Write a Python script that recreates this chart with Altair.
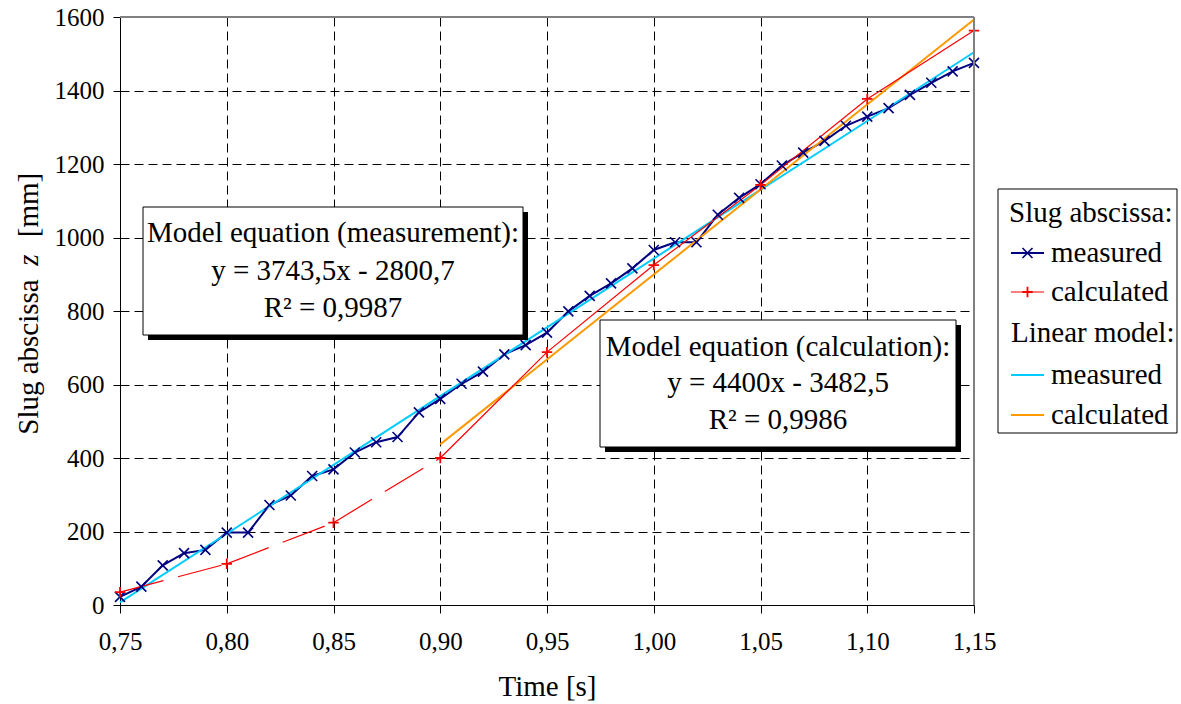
import altair as alt
import pandas as pd

# ---- data ----
time_meas = [0.75, 0.76, 0.77, 0.78, 0.79, 0.80, 0.81, 0.82, 0.83, 0.84, 0.85,
             0.86, 0.87, 0.88, 0.89, 0.90, 0.91, 0.92, 0.93, 0.94, 0.95,
             0.96, 0.97, 0.98, 0.99, 1.00, 1.01, 1.02, 1.03, 1.04, 1.05,
             1.06, 1.07, 1.08, 1.09, 1.10, 1.11, 1.12, 1.13, 1.14, 1.15]
z_meas = [22, 50, 108, 141, 150, 197, 197, 272, 298, 351, 369,
          415, 443, 457, 524, 561, 602, 635, 682, 707, 741,
          799, 841, 875, 916, 966, 987, 987, 1062, 1108, 1145,
          1196, 1231, 1263, 1304, 1329, 1352, 1388, 1421, 1452, 1475]
time_calc = [0.75, 0.80, 0.85, 0.90, 0.95, 1.00, 1.05, 1.10, 1.15]
z_calc = [35, 112, 224, 400, 688, 925, 1143, 1377, 1563]
trend_meas_t = [0.75, 1.15]
trend_meas_z = [7, 1504]
trend_calc_t = [0.90, 1.15]
trend_calc_z = [437, 1593]
x_ticks = [0.75, 0.80, 0.85, 0.90, 0.95, 1.00, 1.05, 1.10, 1.15]
y_ticks = [0, 200, 400, 600, 800, 1000, 1200, 1400, 1600]
dash_until = 0.90  # calculated curve is dashed before this time

NAVY = "#000080"
RED = "#FF0000"
CYAN = "#00CCFF"
ORANGE = "#FF9900"
FONT = "Liberation Serif"
TS = 29  # text size

W, H = 854, 588

df_meas = pd.DataFrame({"t": time_meas, "z": z_meas})
df_calc = pd.DataFrame({"t": time_calc, "z": z_calc})
df_calc_solid = df_calc[df_calc["t"] >= dash_until - 1e-9]
seg = pd.DataFrame({"t": time_calc[:-1], "z": z_calc[:-1],
                    "t1": time_calc[1:], "z1": z_calc[1:]})
seg_dashed = seg[seg["t1"] <= dash_until + 1e-9]
df_tm = pd.DataFrame({"t": trend_meas_t, "z": trend_meas_z})
df_tc = pd.DataFrame({"t": trend_calc_t, "z": trend_calc_z})
one = pd.DataFrame({"k": [0]})

xs = alt.Scale(domain=[0.75, 1.15], nice=False, zero=False)
ys = alt.Scale(domain=[0, 1600], nice=False, zero=True)

X_PATH = "M-1,-1L1,1M-1,1L1,-1"
P_PATH = "M-1,0L1,0M0,-1L0,1"

x_axis = alt.Axis(values=x_ticks,
                  labelExpr="replace(format(datum.value, '.2f'), '.', ',')",
                  labelFlush=False, labelOverlap=False,
                  grid=True, gridDash=[9, 5], gridColor="#000000", gridWidth=1,
                  gridOpacity=1,
                  domainColor="#000000", domainWidth=1, tickColor="#000000",
                  tickSize=8, labelFont=FONT, labelFontSize=25, labelColor="#000",
                  labelPadding=16, title="Time [s]", titleFont=FONT,
                  titleFontSize=TS, titleFontWeight="normal", titleColor="#000",
                  titlePadding=18)
y_axis = alt.Axis(values=y_ticks, format="d", grid=True, gridDash=[9, 5],
                  gridColor="#000000", gridWidth=1, gridOpacity=1,
                  labelFlush=False, labelOverlap=False,
                  domainColor="#000000", domainWidth=1,
                  tickColor="#000000", tickSize=7, labelFont=FONT,
                  labelFontSize=25, labelColor="#000", labelPadding=9, title=None)

X = alt.X("t:Q", scale=xs, axis=x_axis, title="Time [s]")
Y = alt.Y("z:Q", scale=ys, axis=y_axis, title=None)

# measured series
meas_line = alt.Chart(df_meas).mark_line(color=NAVY, strokeWidth=2).encode(x=X, y=Y)
meas_pts = alt.Chart(df_meas).mark_point(shape=X_PATH, size=100, filled=False,
                                         stroke=NAVY, strokeWidth=1.6,
                                         opacity=1).encode(x=X, y=Y)

# calculated series
calc_dash = alt.Chart(seg_dashed).mark_rule(color=RED, strokeWidth=1.2,
                                            strokeDash=[45, 15]).encode(
    x=X, y=Y, x2="t1:Q", y2="z1:Q")
calc_solid = alt.Chart(df_calc_solid).mark_line(color=RED, strokeWidth=1.2).encode(x=X, y=Y)
calc_pts = alt.Chart(df_calc).mark_point(shape=P_PATH, size=110, filled=False,
                                         stroke=RED, strokeWidth=1.8,
                                         opacity=1).encode(x=X, y=Y)

# trend lines
tr_meas = alt.Chart(df_tm).mark_line(color=CYAN, strokeWidth=2).encode(x=X, y=Y)
tr_calc = alt.Chart(df_tc).mark_line(color=ORANGE, strokeWidth=2).encode(x=X, y=Y)

# frame (top / right in gray)
frame_top = alt.Chart(one).mark_rule(color="#808080", strokeWidth=2).encode(
    x=alt.value(0), x2=alt.value(W), y=alt.value(0))
frame_right = alt.Chart(one).mark_rule(color="#808080", strokeWidth=2).encode(
    x=alt.value(W), y=alt.value(0), y2=alt.value(H))


def box(x0, y0, x1, y1, shadow=True):
    layers = []
    if shadow:
        layers.append(alt.Chart(one).mark_rect(color="#000000").encode(
            x=alt.value(x0 + 5), x2=alt.value(x1 + 5),
            y=alt.value(y0 + 5), y2=alt.value(y1 + 5)))
    layers.append(alt.Chart(one).mark_rect(fill="#FFFFFF", stroke="#000000",
                                           strokeWidth=1).encode(
        x=alt.value(x0), x2=alt.value(x1), y=alt.value(y0), y2=alt.value(y1)))
    return layers


def txt(s, x, y, align="center", size=TS, angle=0, italic=False):
    kw = dict(font=FONT, fontSize=size, color="#000000", align=align,
              baseline="middle", text=s)
    if angle:
        kw["angle"] = angle
    if italic:
        kw["fontStyle"] = "italic"
    return alt.Chart(one).mark_text(**kw).encode(x=alt.value(x), y=alt.value(y))


def legline(color, y, width, marker=None, msize=100, mwidth=1.6):
    layers = [alt.Chart(one).mark_rule(color=color, strokeWidth=width).encode(
        x=alt.value(891), x2=alt.value(924), y=alt.value(y))]
    if marker:
        layers.append(alt.Chart(one).mark_point(shape=marker, size=msize, filled=False,
                                                stroke=color, strokeWidth=mwidth,
                                                opacity=1).encode(
            x=alt.value(907.5), y=alt.value(y)))
    return layers


annot = []
# box 1
annot += box(23, 190, 403, 318)
annot += [txt("Model equation (measurement):", 213, 216),
          txt("y = 3743,5x - 2800,7", 213, 254),
          txt("R² = 0,9987", 213, 291)]
# box 2
annot += box(480, 303, 836, 430)
annot += [txt("Model equation (calculation):", 658, 330),
          txt("y = 4400x - 3482,5", 658, 366),
          txt("R² = 0,9986", 658, 403)]
# legend
annot += box(878, 172, 1057, 416, shadow=False)
annot += [txt("Slug abscissa:", 889, 196, align="left"),
          txt("measured", 931, 236, align="left"),
          txt("calculated", 931, 275, align="left"),
          txt("Linear model:", 891, 316, align="left"),
          txt("measured", 931, 358, align="left"),
          txt("calculated", 931, 398, align="left")]
annot += legline(NAVY, 236, 2, X_PATH)
annot += legline(RED, 275, 1.2, P_PATH, 110, 1.8)
annot += legline(CYAN, 358, 2)
annot += legline(ORANGE, 398, 2)
# y axis title with italic z
annot += [txt("Slug abscissa", -91, 340, angle=270),
          txt("z", -91, 243, angle=270, italic=True),
          txt("[mm]", -91, 188, angle=270)]

chart = alt.layer(
    meas_line, tr_meas, tr_calc, calc_dash, calc_solid, meas_pts, calc_pts,
    frame_top, frame_right, *annot
).properties(
    width=W, height=H,
    autosize=alt.AutoSizeParams(type="none"),
    padding={"left": 120, "top": 17, "right": 207, "bottom": 99},
    background="#FFFFFF",
).configure_view(stroke=None)

chart.save("out.html", embed_options={"renderer": "svg", "actions": False})
